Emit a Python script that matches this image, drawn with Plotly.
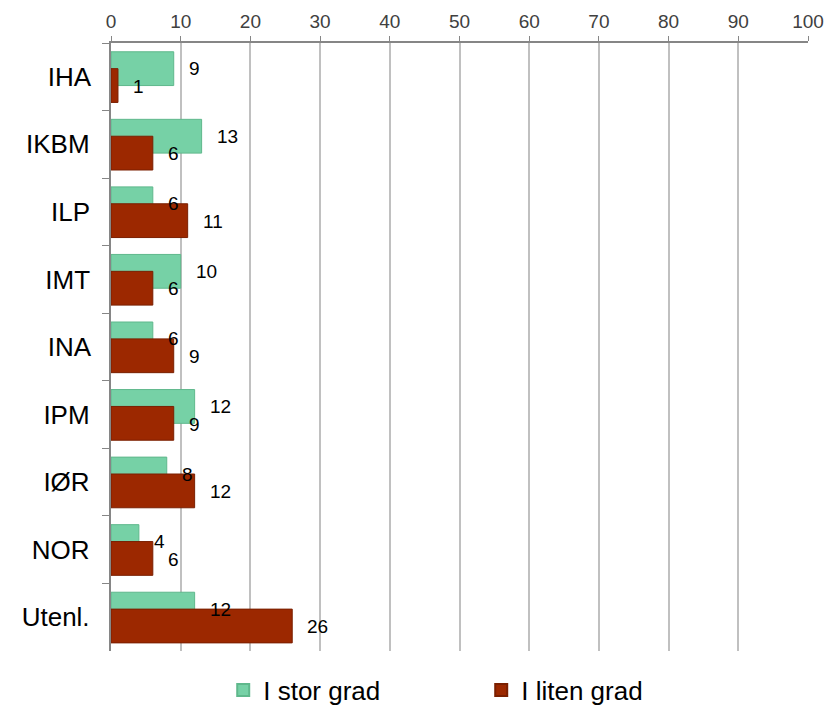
import plotly.graph_objects as go

# Data
categories = ['IHA', 'IKBM', 'ILP', 'IMT', 'INA', 'IPM', 'IØR', 'NOR', 'Utenl.']
stor_grad = [9, 13, 6, 10, 6, 12, 8, 4, 12]
liten_grad = [1, 6, 11, 6, 9, 9, 12, 6, 26]

green = '#76d1a6'
red = '#9c2800'

fig = go.Figure()

fig.add_trace(go.Bar(
    y=categories, x=stor_grad, orientation='h',
    name='I stor grad',
    marker=dict(color=green, line=dict(color='#5fb88c', width=1)),
    width=0.5, offset=-0.37,
    hoverinfo='x+name',
))

fig.add_trace(go.Bar(
    y=categories, x=liten_grad, orientation='h',
    name='I liten grad',
    marker=dict(color=red, line=dict(color='#7a1f00', width=1)),
    width=0.5, offset=-0.12,
    hoverinfo='x+name',
))

# value labels placed a bit right of each bar end
annotations = []
for i, (c, g, r) in enumerate(zip(categories, stor_grad, liten_grad)):
    annotations.append(dict(
        x=g, y=i - 0.12, xref='x', yref='y', text=str(g),
        showarrow=False, xanchor='left', yanchor='middle', xshift=13,
        font=dict(family='Arial, Liberation Sans', size=19, color='black'),
    ))
    annotations.append(dict(
        x=r, y=i + 0.14, xref='x', yref='y', text=str(r),
        showarrow=False, xanchor='left', yanchor='middle', xshift=13,
        font=dict(family='Arial, Liberation Sans', size=19, color='black'),
    ))

# page body has an 8px margin, so the figure is sized a little smaller
fig.update_layout(
    width=830, height=697,
    barmode='overlay',
    plot_bgcolor='white', paper_bgcolor='white',
    margin=dict(l=103, r=30, t=35, b=54),
    font=dict(family='Arial, Liberation Sans', color='black'),
    annotations=annotations,
    showlegend=True,
    legend=dict(
        orientation='h', x=0.161, xanchor='left',
        yref='container', y=0.0215, yanchor='middle',
        font=dict(size=26, color='black'),
        entrywidth=213, entrywidthmode='pixels',
        itemsizing='constant',
    ),
    xaxis=dict(
        side='top', range=[0, 100], dtick=10,
        showgrid=True, gridcolor='#c0c0c0', gridwidth=1.5,
        showline=True, linecolor='#868686', linewidth=1.5,
        ticks='outside', ticklen=5, tickcolor='#868686',
        tickfont=dict(size=19, color='#404040'),
        ticklabelstandoff=1,
        zeroline=False, fixedrange=True, automargin=False,
    ),
    yaxis=dict(
        autorange='reversed',
        showline=True, linecolor='#868686', linewidth=1.5,
        ticks='outside', ticklen=7, tickcolor='#868686', tickson='boundaries',
        tickfont=dict(size=26, color='black'),
        ticksuffix='  ',
        showgrid=False, fixedrange=True, automargin=False,
    ),
)

fig.write_html("out.html")
